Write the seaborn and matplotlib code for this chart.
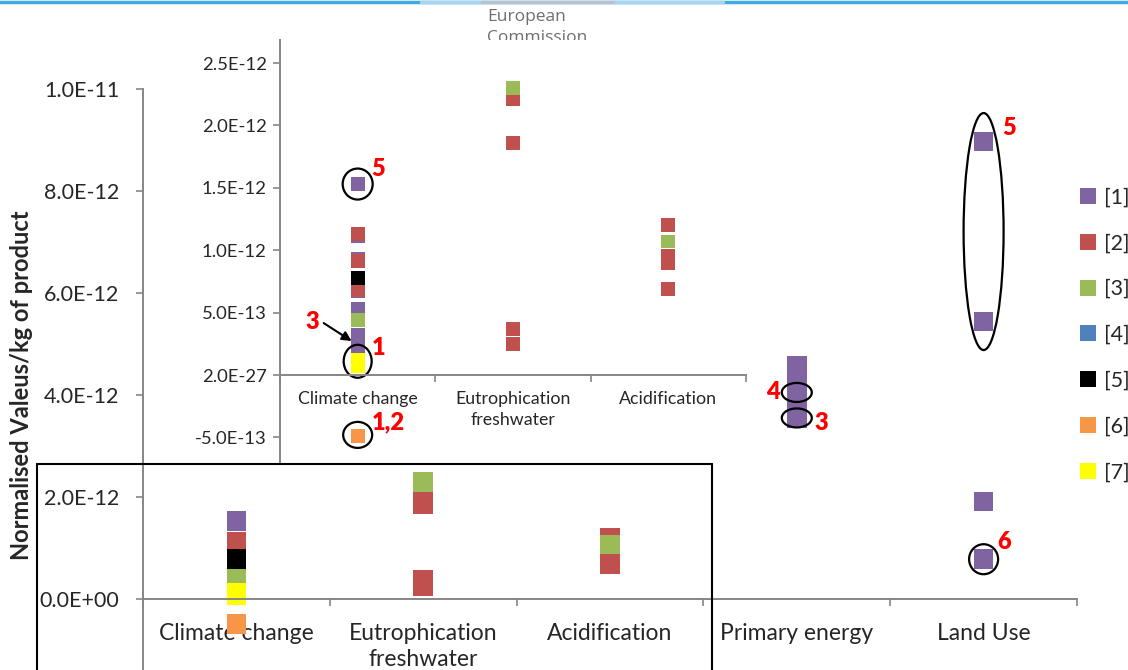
import matplotlib
matplotlib.use("Agg")
import matplotlib.pyplot as plt
import matplotlib.transforms as mtransforms
from matplotlib.patches import Ellipse
from matplotlib.lines import Line2D
import pandas as pd
import seaborn as sns

# ---------------------------------------------------------------- data
categories = ["Climate change", "Eutrophication\nfreshwater", "Acidification",
              "Primary energy", "Land Use"]
series_names = ["[1]", "[2]", "[3]", "[4]", "[5]", "[6]", "[7]"]
series_colors = ["#8064A2", "#C0504D", "#9BBB59", "#4F81BD", "#000000",
                 "#F79646", "#FFFF00"]

# normalised values, unit 1E-12 per kg of product
s1_climate = [1.53, 1.11, 0.93, 0.67, 0.53, 0.32, 0.28, 0.23]
s1_primary = [4.58, 4.32, 4.05, 3.80, 3.55]
s1_land = [8.97, 5.44, 1.91, 0.78]
s2_climate = [1.13, 0.91, 0.684]
s2_eutro = [2.21, 1.86, 0.37, 0.25]
s2_acid = [1.20, 0.95, 0.90, 0.69]
s3_climate = [0.44]
s3_eutro = [2.30]
s3_acid = [1.07]
s4_climate = [0.78]
s5_climate = [0.78]
s6_climate = [-0.49]
s7_climate = [0.12, 0.07]

main_ticks = [0, 2, 4, 6, 8, 10]
main_tick_labels = ["0.0E+00", "2.0E-12", "4.0E-12", "6.0E-12", "8.0E-12", "1.0E-11"]
inset_ticks = [-0.5, 0, 0.5, 1.0, 1.5, 2.0, 2.5]
inset_tick_labels = ["-5.0E-13", "2.0E-27", "5.0E-13", "1.0E-12", "1.5E-12",
                     "2.0E-12", "2.5E-12"]

SCALE = 1e-12

# ---------------------------------------------------------------- table
table = [
    ("[1]", 0, s1_climate), ("[1]", 3, s1_primary), ("[1]", 4, s1_land),
    ("[2]", 0, s2_climate), ("[2]", 1, s2_eutro), ("[2]", 2, s2_acid),
    ("[3]", 0, s3_climate), ("[3]", 1, s3_eutro), ("[3]", 2, s3_acid),
    ("[4]", 0, s4_climate), ("[5]", 0, s5_climate), ("[6]", 0, s6_climate),
    ("[7]", 0, s7_climate),
]
rows = []
for name, cat, values in table:
    for v in values:
        rows.append({"series": name, "pos": cat, "value": v * SCALE})
df = pd.DataFrame(rows)
df["order"] = df["series"].map({n: i for i, n in enumerate(series_names)})
df = df.sort_values("order", kind="stable")
palette = dict(zip(series_names, series_colors))

# ---------------------------------------------------------------- figure
sns.set_theme(style="white")
plt.rcParams["font.family"] = ["Lato", "DejaVu Sans"]

W, H = 1128, 670
fig = plt.figure(figsize=(W / 100, H / 100), dpi=100)


def fx(px):
    return px / W


def fy(py):
    return 1 - py / H


GRAY = "#868686"

# main chart: y axis 0 at 599 px, 51 px per 1E-12
main_top, main_bot = 89, 670
main_ax = fig.add_axes([fx(143), fy(main_bot), fx(1077) - fx(143),
                        (main_bot - main_top) / H])
sns.scatterplot(data=df, x="pos", y="value", hue="series", hue_order=series_names,
                palette=palette, marker="s", s=200, linewidth=0, ax=main_ax)
main_ax.set_xlim(-0.5, 4.5)
main_ax.set_ylim(-(main_bot - 599) / 51 * SCALE, 10 * SCALE)


def style_axis(ax, n, yticks, ylabels, fs_y, fs_x, pad_y, pad_x, linesp):
    for side in ("top", "right"):
        ax.spines[side].set_visible(False)
    for side in ("left", "bottom"):
        ax.spines[side].set_color(GRAY)
        ax.spines[side].set_linewidth(1.4)
    ax.spines["bottom"].set_position(("data", 0))
    ax.set_facecolor("white")
    ax.set_yticks([t * SCALE for t in yticks])
    ax.set_yticklabels(ylabels, fontsize=fs_y)
    ax.set_xticks([i - 0.5 for i in range(n + 1)])
    ax.set_xticklabels([])
    ax.set_xticks(list(range(n)), minor=True)
    ax.set_xticklabels(categories[:n], minor=True, fontsize=fs_x,
                       linespacing=linesp)
    ax.tick_params(axis="y", which="major", direction="out", length=5,
                   width=1.2, color=GRAY, pad=pad_y, left=True)
    ax.tick_params(axis="x", which="major", direction="out", length=5,
                   width=1.2, color=GRAY, bottom=True)
    ax.tick_params(axis="x", which="minor", length=0, pad=pad_x, bottom=True)
    ax.set_xlabel("")
    ax.set_ylabel("")
    ax.grid(False)


style_axis(main_ax, 5, main_ticks, main_tick_labels, 15.5, 16.5, 12, 17, 1.3)
main_ax.set_ylabel("Normalised Valeus/kg of product", fontsize=17,
                   fontweight="bold")
main_ax.yaxis.set_label_coords((22 - 143) / 934, (670 - 385) / 581)
main_ax.yaxis.label.set_verticalalignment("center")

sns.move_legend(main_ax, "upper left", bbox_to_anchor=(fx(1059), fy(168)),
                bbox_transform=fig.transFigure, frameon=False, title=None,
                fontsize=15.5, markerscale=0.8, labelspacing=1.2,
                handlelength=0.9, handletextpad=0.3)

# zoomed inset for the first three categories: 0 at 375 px, 124.8 px per 1E-12
in_top, in_bot = 40, 462
inset = fig.add_axes([fx(280), fy(in_bot), fx(746) - fx(280), (in_bot - in_top) / H])
inset.set_zorder(5)
sns.scatterplot(data=df[df["pos"] < 3], x="pos", y="value", hue="series",
                hue_order=series_names, palette=palette, marker="s", s=100,
                linewidth=0, legend=False, ax=inset)
inset.set_xlim(-0.5, 2.5)
inset.set_ylim(-(in_bot - 375) / 124.8 * SCALE, (375 - in_top) / 124.8 * SCALE)
style_axis(inset, 3, inset_ticks, inset_tick_labels, 13.3, 12.8, 4.5, 11.5, 1.35)


# ---------------------------------------------------------------- callouts
def ring(ax, x, v, w, h):
    e = Ellipse((0, 0), w, h, fill=False, ec="black", lw=1.6, clip_on=False,
                transform=mtransforms.ScaledTranslation(x, v * SCALE, ax.transData))
    ax.add_artist(e)


def tag(ax, x, v, dx, dy, text):
    ax.annotate(text, xy=(x, v * SCALE), xytext=(dx, dy),
                textcoords="offset pixels", ha="center", va="center",
                color="#FF0000", fontsize=17, fontweight="heavy",
                annotation_clip=False)


# inset, climate change
ring(inset, 0, s1_climate[0], 30, 31)
tag(inset, 0, s1_climate[0], 20, 15, "5")
ring(inset, 0, s7_climate[0] - 0.01, 28, 33)
tag(inset, 0, s7_climate[0], 21, 12, "1")
ring(inset, 0, s6_climate[0] + 0.01, 29, 26)
tag(inset, 0, s6_climate[0], 31, 14, "1,2")
tag(inset, 0, s1_climate[5], -45, 13, "3")
arrow_tip = mtransforms.offset_copy(inset.transData, fig=fig, x=-6, y=-6, units="dots")
inset.annotate("", xy=(0, s1_climate[5] * SCALE), xycoords=arrow_tip,
               xytext=(-28, 18), textcoords="offset pixels",
               arrowprops=dict(arrowstyle="-|>", color="black", lw=1.5,
                               mutation_scale=14, shrinkA=0, shrinkB=0))

# main chart, primary energy and land use
ring(main_ax, 3, s1_primary[2], 30, 19)
tag(main_ax, 3, s1_primary[2], -24, 0, "4")
ring(main_ax, 3, s1_primary[4], 30, 19)
tag(main_ax, 3, s1_primary[4], 24, -5, "3")
ring(main_ax, 4, (s1_land[0] + s1_land[1]) / 2, 40, 237)
tag(main_ax, 4, s1_land[0], 25, 14, "5")
ring(main_ax, 4, s1_land[3], 29, 30)
tag(main_ax, 4, s1_land[3], 20, 17, "6")

# frame around the zoomed region of the main chart
frame = dict(color="black", lw=1.5, transform=fig.transFigure, zorder=6)
fig.add_artist(Line2D([fx(37), fx(712)], [fy(464), fy(464)], **frame))
fig.add_artist(Line2D([fx(37), fx(37)], [fy(464), fy(672)], **frame))
fig.add_artist(Line2D([fx(712), fx(712)], [fy(464), fy(672)], **frame))

# page header
fig.add_artist(Line2D([0, 1], [fy(1.5), fy(1.5)], color="#3FA9E2", lw=2.5,
                      transform=fig.transFigure))
for a, b, c in [(421, 482, "#A9D4F0"), (482, 615, "#B7C3CF"), (615, 723, "#A9D4F0")]:
    fig.add_artist(Line2D([fx(a), fx(b)], [fy(1.5), fy(1.5)], color=c, lw=2.5,
                          transform=fig.transFigure))
fig.text(fx(487), fy(9), "European\nCommission", ha="left", va="top",
         fontsize=12.5, color="#6D6E71", linespacing=1.45,
         family=["Open Sans", "DejaVu Sans"], zorder=1)

fig.savefig("out.png", dpi=100, facecolor="white")
